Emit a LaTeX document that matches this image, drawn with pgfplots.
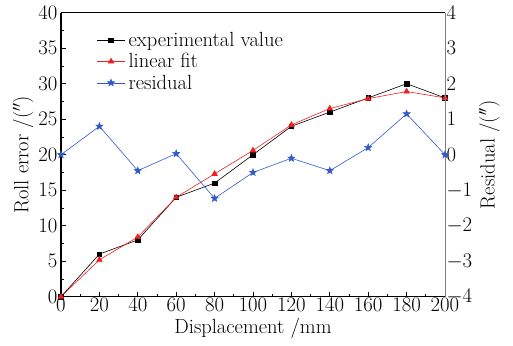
\documentclass[border=0pt]{standalone}
\usepackage{pgfplots}
\pgfplotsset{compat=1.18}
\definecolor{myred}{RGB}{240,30,30}
\definecolor{myblue}{RGB}{50,90,200}
\makeatletter
\pgfdeclareplotmark{fstar}{%
  \pgfpathmoveto{\pgfqpointpolar{90}{\pgfplotmarksize}}%
  \pgfpathlineto{\pgfqpointpolar{126}{0.42\pgfplotmarksize}}%
  \pgfpathlineto{\pgfqpointpolar{162}{\pgfplotmarksize}}%
  \pgfpathlineto{\pgfqpointpolar{198}{0.42\pgfplotmarksize}}%
  \pgfpathlineto{\pgfqpointpolar{234}{\pgfplotmarksize}}%
  \pgfpathlineto{\pgfqpointpolar{270}{0.42\pgfplotmarksize}}%
  \pgfpathlineto{\pgfqpointpolar{306}{\pgfplotmarksize}}%
  \pgfpathlineto{\pgfqpointpolar{342}{0.42\pgfplotmarksize}}%
  \pgfpathlineto{\pgfqpointpolar{18}{\pgfplotmarksize}}%
  \pgfpathlineto{\pgfqpointpolar{54}{0.42\pgfplotmarksize}}%
  \pgfpathclose
  \pgfusepathqfillstroke}
\makeatother
\newcommand{\bigf}{\fontsize{20.5}{24}\selectfont}
\begin{document}
\begin{tikzpicture}
\pgfplotsset{
  every axis/.append style={
    scale only axis, width=384pt, height=284pt,
    xmin=0, xmax=200,
    tick label style={font=\bigf},
    label style={font=\bigf},
  },
}
\begin{axis}[
  name=main,
  axis x line*=bottom, axis y line*=left,
  axis line style={line width=1.4pt, black},
  ymin=0, ymax=40, ytick={0,5,...,40}, xtick={0,20,...,200},
  minor x tick num=1, minor y tick num=1,
  tick align=inside, major tick length=5pt, minor tick length=3pt,
  tick style={black, line width=0.9pt},
  xlabel={Displacement /mm}, ylabel={Roll error /($''$)},
  xticklabel style={yshift=2pt},
  xlabel style={yshift=0pt}, ylabel style={yshift=-2pt},
  legend style={draw=none, fill=none, at={(0.092,0.935)}, anchor=north west,
    font=\bigf, row sep=3.5pt, inner sep=0pt, nodes={inner sep=1pt}, column sep=2pt},
  legend cell align=left,
  legend image code/.code={%
    \draw[mark repeat=2,mark phase=2,#1] plot coordinates {(0cm,0cm) (0.5cm,0cm) (1cm,0cm)};},
]
\addplot[black, mark=square*, mark size=2.3pt, line width=0.6pt, mark options={solid}] coordinates {
(0,0) (20,6) (40,8) (60,14) (80,16) (100,20) (120,24) (140,26) (160,28) (180,30) (200,28)};
\addplot[myred, mark=triangle*, mark size=3.2pt, line width=0.6pt] coordinates {
(0,0) (20,5.2) (40,8.4) (60,14) (80,17.3) (100,20.6) (120,24.2) (140,26.5) (160,27.9) (180,28.9) (200,28.0)};
\addlegendimage{myblue, mark=fstar, mark size=3.6pt, line width=0.6pt}
\legend{experimental value, linear fit, residual}
\end{axis}
\begin{axis}[
  axis x line*=top, axis y line*=right,
  x axis line style={black, line width=0.6pt},
  y axis line style={gray, line width=0.8pt},
  xtick=\empty, ymin=-4, ymax=4, ytick={-4,...,4},
  ytick style={draw=none}, yticklabel style={xshift=-2pt},
  ylabel={Residual /($''$)}, ylabel style={yshift=0pt},
]
\addplot[myblue, mark=fstar, mark size=3.6pt, line width=0.6pt] coordinates {
(0,0) (20,0.8) (40,-0.45) (60,0.03) (80,-1.23) (100,-0.5) (120,-0.1) (140,-0.45) (160,0.2) (180,1.15) (200,0)};
\end{axis}
\pgfresetboundingbox
\path[use as bounding box] ([xshift=-61pt,yshift=-49pt]main.south west) rectangle ([xshift=68pt,yshift=12.7pt]main.north east);
\end{tikzpicture}
\end{document}
